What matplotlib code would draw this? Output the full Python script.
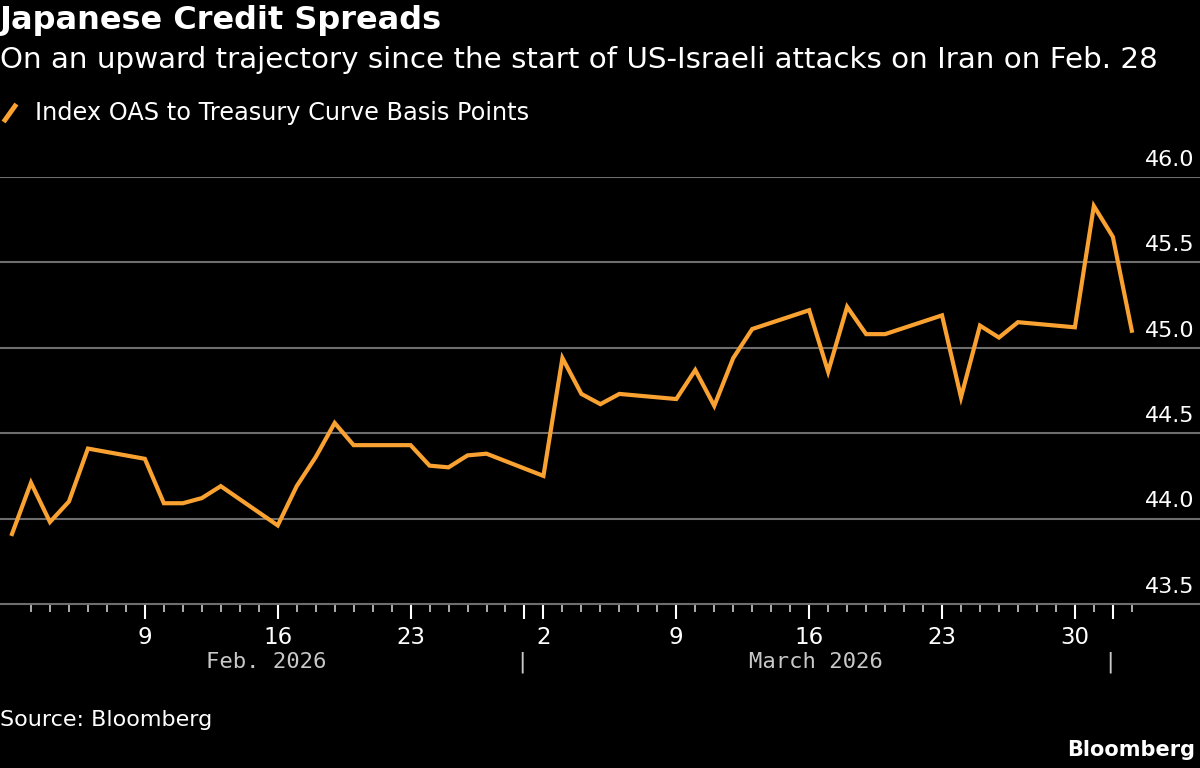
import numpy as np
import pandas as pd
import matplotlib
matplotlib.use("Agg")
import matplotlib.pyplot as plt
import matplotlib.dates as mdates
from matplotlib.lines import Line2D

# ==============================
# DATA
# ==============================
dates = [
    "2026-02-02", "2026-02-03", "2026-02-04", "2026-02-05", "2026-02-06",
    "2026-02-09", "2026-02-10", "2026-02-11", "2026-02-12", "2026-02-13",
    "2026-02-16", "2026-02-17", "2026-02-18", "2026-02-19", "2026-02-20",
    "2026-02-23", "2026-02-24", "2026-02-25", "2026-02-26", "2026-02-27",
    "2026-03-02", "2026-03-03", "2026-03-04", "2026-03-05", "2026-03-06",
    "2026-03-09", "2026-03-10", "2026-03-11", "2026-03-12", "2026-03-13",
    "2026-03-16", "2026-03-17", "2026-03-18", "2026-03-19", "2026-03-20",
    "2026-03-23", "2026-03-24", "2026-03-25", "2026-03-26", "2026-03-27",
    "2026-03-30", "2026-03-31", "2026-04-01", "2026-04-02",
]
oas = [
    43.91, 44.21, 43.98, 44.10, 44.41,
    44.35, 44.09, 44.09, 44.12, 44.19,
    43.96, 44.19, 44.36, 44.56, 44.43,
    44.43, 44.31, 44.30, 44.37, 44.38,
    44.25, 44.94, 44.73, 44.67, 44.73,
    44.70, 44.87, 44.66, 44.94, 45.11,
    45.22, 44.86, 45.24, 45.08, 45.08,
    45.19, 44.71, 45.13, 45.06, 45.15,
    45.12, 45.83, 45.65, 45.10,
]

y_ticks = [43.5, 44.0, 44.5, 45.0, 45.5, 46.0]
y_labels = ["43.5", "44.0", "44.5", "45.0", "45.5", "46.0"]

major_days = ["2026-02-09", "2026-02-16", "2026-02-23", "2026-03-02",
              "2026-03-09", "2026-03-16", "2026-03-23", "2026-03-30"]
major_labels = ["9", "16", "23", "2", "9", "16", "23", "30"]
month_starts = ["2026-03-01", "2026-04-01"]
month_names = ["Feb. 2026", "March 2026"]
month_centers = ["2026-02-15 10:00", "2026-03-16 08:00"]

title = "Japanese Credit Spreads"
subtitle = "On an upward trajectory since the start of US-Israeli attacks on Iran on Feb. 28"
legend_label = "Index OAS to Treasury Curve Basis Points"

# ==============================
# STYLE
# ==============================
BG = "#000000"
ORANGE = "#FAA231"
GRID = "#6e6e6e"
WHITE = "#ffffff"
MONTH_GRAY = "#c8c8c8"

plt.rcParams["font.family"] = ["DejaVu Sans"]

fig = plt.figure(figsize=(12, 7.68), dpi=100, facecolor=BG)
ax = fig.add_axes([0.0, 1 - 604 / 768, 1.0, (604 - 177) / 768])
ax.set_facecolor(BG)

x = pd.to_datetime(dates)
ax.plot(x, oas, color=ORANGE, lw=3.0, solid_joinstyle="miter", zorder=3)

# limits
x0 = mdates.date2num(pd.Timestamp("2026-02-02"))
px_day = 18.98
ax.set_xlim(x0 - 12 / px_day, x0 + (1200 - 12) / px_day)
ax.set_ylim(43.5, 46.0)

# gridlines + y labels inside the plot
ax.set_yticks([])
for v, lbl in zip(y_ticks, y_labels):
    if v > 43.5:
        ax.axhline(v, color=GRID, lw=1.5, zorder=1)
    ax.annotate(lbl, xy=(1, v), xycoords=("axes fraction", "data"),
                xytext=(-4, 8), textcoords="offset points",
                ha="right", va="baseline", color=WHITE, fontsize=16)

for s in ["top", "right", "left"]:
    ax.spines[s].set_visible(False)
ax.spines["bottom"].set_color(GRID)
ax.spines["bottom"].set_linewidth(1.5)

# x ticks
major_pos = [mdates.date2num(pd.Timestamp(d)) for d in major_days + month_starts]
ax.set_xticks(major_pos)
ax.set_xticklabels(major_labels + ["", ""])
minor_pos = [mdates.date2num(d) for d in pd.date_range("2026-02-03", "2026-04-02")]
minor_pos = [m for m in minor_pos if m not in major_pos]
ax.set_xticks(minor_pos, minor=True)
ax.tick_params(axis="x", which="major", length=11, width=1.5, color=WHITE,
               labelcolor=WHITE, labelsize=16.5, pad=5)
ax.tick_params(axis="x", which="minor", length=6, width=1.2, color="#cccccc")

# month labels and separators
for name, c in zip(month_names, month_centers):
    ax.annotate(name, xy=(pd.Timestamp(c), 0), xycoords=("data", "axes fraction"),
                xytext=(0, -42), textcoords="offset points", ha="center", va="center",
                color=MONTH_GRAY, fontsize=16, family="DejaVu Sans Mono")
for m in month_starts:
    ax.annotate("|", xy=(pd.Timestamp(m), 0), xycoords=("data", "axes fraction"),
                xytext=(-2, -42), textcoords="offset points", ha="center", va="center",
                color=MONTH_GRAY, fontsize=16, family="DejaVu Sans Mono")

# ==============================
# TEXT
# ==============================
fig.text(0.0, 1 - 21 / 768, title, color=WHITE, fontsize=23, fontweight="bold",
         ha="left", va="center")
fig.text(0.0, 1 - 60 / 768, subtitle, color=WHITE, fontsize=21.2,
         ha="left", va="center")

fig.add_artist(Line2D([5 / 1200, 15 / 1200], [1 - 120 / 768, 1 - 106 / 768],
                      color=ORANGE, lw=3.5, transform=fig.transFigure))
fig.text(35 / 1200, 1 - 113 / 768, legend_label, color=WHITE, fontsize=17.3,
         ha="left", va="center")

fig.text(0.0, 1 - 720 / 768, "Source: Bloomberg", color=WHITE, fontsize=16,
         ha="left", va="center")
fig.text(1 - 5 / 1200, 1 - 750 / 768, "Bloomberg", color=WHITE, fontsize=15,
         fontweight="bold", ha="right", va="center")

fig.savefig("out.png", dpi=100, facecolor=BG)
